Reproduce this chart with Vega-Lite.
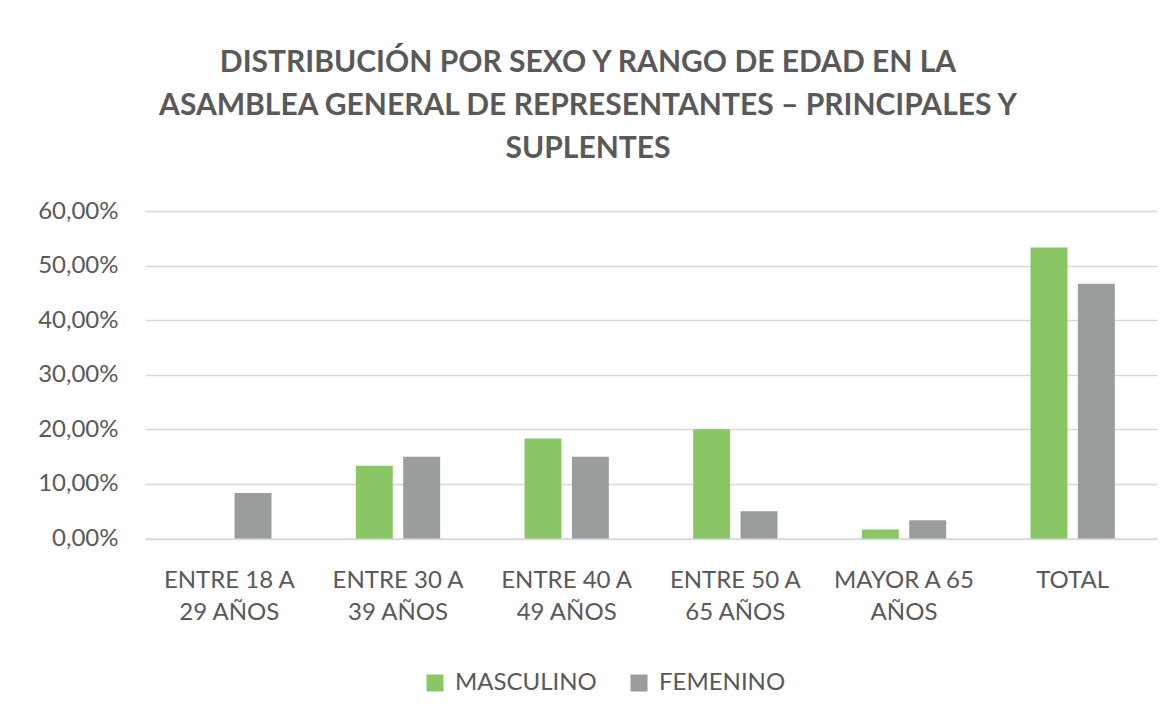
{
  "$schema": "https://vega.github.io/schema/vega-lite/v6.json",
  "width": 1012,
  "height": 327.5,
  "autosize": {"type": "none"},
  "padding": {"left": 145, "top": 211, "right": 14, "bottom": 184.5},
  "background": "white",
  "title": {
    "text": ["DISTRIBUCIÓN POR SEXO Y RANGO DE EDAD EN LA", "ASAMBLEA GENERAL DE REPRESENTANTES – PRINCIPALES Y", "SUPLENTES"],
    "font": "Lato",
    "fontSize": 30,
    "fontWeight": "bold",
    "color": "#595959",
    "lineHeight": 43,
    "anchor": "middle",
    "frame": "group",
    "dx": -63,
    "offset": 35
  },
  "data": {
    "values": [
      {"rango": "ENTRE 18 A 29 AÑOS", "sexo": "MASCULINO", "porcentaje": 0},
      {"rango": "ENTRE 18 A 29 AÑOS", "sexo": "FEMENINO", "porcentaje": 0.0833},
      {"rango": "ENTRE 30 A 39 AÑOS", "sexo": "MASCULINO", "porcentaje": 0.1333},
      {"rango": "ENTRE 30 A 39 AÑOS", "sexo": "FEMENINO", "porcentaje": 0.15},
      {"rango": "ENTRE 40 A 49 AÑOS", "sexo": "MASCULINO", "porcentaje": 0.1833},
      {"rango": "ENTRE 40 A 49 AÑOS", "sexo": "FEMENINO", "porcentaje": 0.15},
      {"rango": "ENTRE 50 A 65 AÑOS", "sexo": "MASCULINO", "porcentaje": 0.2},
      {"rango": "ENTRE 50 A 65 AÑOS", "sexo": "FEMENINO", "porcentaje": 0.05},
      {"rango": "MAYOR A 65 AÑOS", "sexo": "MASCULINO", "porcentaje": 0.0167},
      {"rango": "MAYOR A 65 AÑOS", "sexo": "FEMENINO", "porcentaje": 0.0333},
      {"rango": "TOTAL", "sexo": "MASCULINO", "porcentaje": 0.5333},
      {"rango": "TOTAL", "sexo": "FEMENINO", "porcentaje": 0.4667}
    ]
  },
  "mark": {"type": "bar"},
  "encoding": {
    "x": {
      "field": "rango",
      "type": "nominal",
      "sort": null,
      "scale": {"paddingInner": 0.5, "paddingOuter": 0.25},
      "axis": {
        "title": null,
        "labelAngle": 0,
        "domain": true,
        "domainColor": "#d9d9d9",
        "domainWidth": 1.5,
        "ticks": false,
        "labelPadding": 30,
        "labelFont": "Lato",
        "labelFontSize": 24,
        "labelColor": "#595959",
        "labelLineHeight": 32,
        "labelBaseline": "top",
        "labelExpr": "datum.value == 'MAYOR A 65 AÑOS' ? ['MAYOR A 65', 'AÑOS'] : datum.value == 'TOTAL' ? 'TOTAL' : [slice(datum.value, 0, 10), slice(datum.value, 11)]"
      }
    },
    "xOffset": {
      "field": "sexo",
      "type": "nominal",
      "sort": ["MASCULINO", "FEMENINO"],
      "scale": {"paddingInner": 0.22, "paddingOuter": 0}
    },
    "y": {
      "field": "porcentaje",
      "type": "quantitative",
      "scale": {"domain": [0, 0.6]},
      "axis": {
        "title": null,
        "values": [0, 0.1, 0.2, 0.3, 0.4, 0.5, 0.6],
        "format": ".2%",
        "domain": false,
        "ticks": false,
        "labelPadding": 27,
        "labelFont": "Lato",
        "labelFontSize": 24,
        "labelColor": "#595959",
        "gridColor": "#d9d9d9",
        "gridWidth": 1.5
      }
    },
    "color": {
      "field": "sexo",
      "type": "nominal",
      "scale": {"domain": ["MASCULINO", "FEMENINO"], "range": ["#8AC664", "#9A9D9E"]},
      "legend": {
        "title": null,
        "orient": "none",
        "legendX": 278,
        "legendY": 460,
        "direction": "horizontal",
        "symbolType": "square",
        "symbolSize": 289,
        "symbolStrokeWidth": 0,
        "labelFont": "Lato",
        "labelFontSize": 24,
        "labelColor": "#595959",
        "columnPadding": 30,
        "labelOffset": 8
      }
    }
  },
  "config": {
    "view": {"stroke": null},
    "locale": {"number": {"decimal": ",", "thousands": ".", "grouping": [3], "currency": ["", " €"]}}
  }
}
